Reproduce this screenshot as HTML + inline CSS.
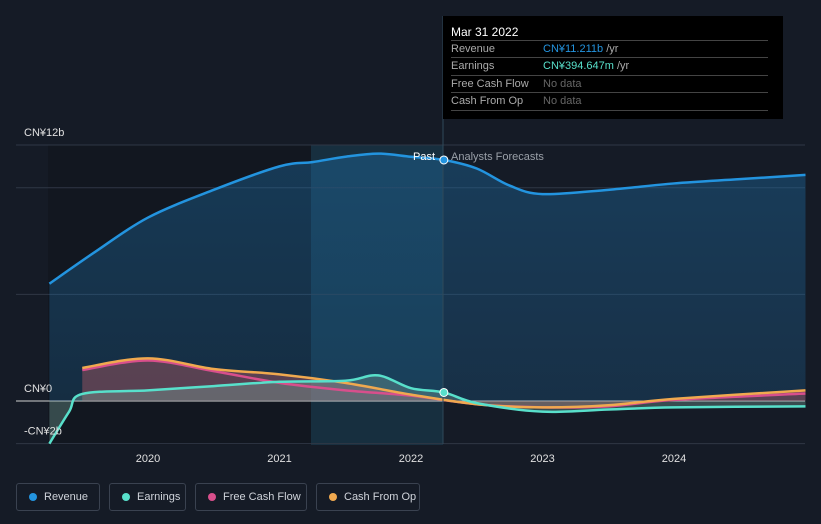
<!DOCTYPE html>
<html><head><meta charset="utf-8"><style>
body{margin:0;background:#151b26;font-family:"Liberation Sans",sans-serif;}
#wrap{position:relative;width:821px;height:524px;overflow:hidden;background:#151b26}
svg text{font-family:"Liberation Sans",sans-serif}
.leg{position:absolute;top:483px;height:28px;border:1px solid #3a4250;border-radius:3px;color:#cfd3da;font-size:11px;line-height:26px;box-sizing:border-box;padding-left:27px;white-space:nowrap}
.leg i{position:absolute;left:12px;top:9px;width:8px;height:8px;border-radius:50%}
#tip{position:absolute;left:443px;top:16px;width:340px;height:103px;background:#000;color:#fff;font-size:11px}
#tip .r{position:absolute;left:8px;width:317px;border-top:1px solid #444;height:17px;line-height:17px;color:#aaa}
#tip .r span{position:absolute;left:92px}
</style></head><body>
<div id="wrap">
<svg id="chart" width="821" height="524">
<defs>
<linearGradient id="revg" x1="0" y1="0" x2="0" y2="1"><stop offset="0" stop-color="#1e6fa8" stop-opacity="0.4"/><stop offset="1" stop-color="#1e6fa8" stop-opacity="0.25"/></linearGradient>
</defs>
<rect x="48" y="145" width="263" height="300" fill="#121720"/>
<rect x="311" y="145" width="132" height="300" fill="#1a4a60" opacity="0.45"/>
<g id="grid"></g>
<g id="areas"></g>
<g id="lines"></g>
<g id="axis"></g>
</svg>
<div id="tip">
<div style="position:absolute;left:8px;top:9px;font-size:12px">Mar 31 2022</div>
<div class="r" style="top:24px">Revenue<span><b style="font-weight:normal;color:#2394df">CN¥11.211b</b> <span style="position:static;color:#aaa">/yr</span></span></div>
<div class="r" style="top:41px">Earnings<span><b style="font-weight:normal;color:#58e0cb">CN¥394.647m</b> <span style="position:static;color:#aaa">/yr</span></span></div>
<div class="r" style="top:59px">Free Cash Flow<span style="color:#666">No data</span></div>
<div class="r" style="top:76px;border-bottom:1px solid #444">Cash From Op<span style="color:#666">No data</span></div>
</div>
<div class="leg" style="left:16px;width:84px"><i style="background:#2394df"></i>Revenue</div>
<div class="leg" style="left:109px;width:77px"><i style="background:#58e0cb"></i>Earnings</div>
<div class="leg" style="left:195px;width:112px"><i style="background:#d84f8c"></i>Free Cash Flow</div>
<div class="leg" style="left:316px;width:104px"><i style="background:#f0a94f"></i>Cash From Op</div>
</div>
<script>
const revX=[2019.25,2019.6,2020,2020.5,2021,2021.25,2021.5,2021.75,2022,2022.25,2022.5,2022.75,2023,2023.5,2024,2024.5,2025];
const revV=[5.5,7.0,8.6,9.9,11.0,11.2,11.45,11.6,11.45,11.3,10.9,10.1,9.7,9.9,10.2,10.4,10.6];
const earnX=[2019.25,2019.4,2019.5,2020,2020.5,2021,2021.5,2021.75,2022,2022.25,2022.5,2023,2023.5,2024,2025];
const earnV=[-2.0,-0.5,0.33,0.5,0.7,0.9,0.95,1.2,0.6,0.4,-0.1,-0.5,-0.4,-0.3,-0.25];
const fcfX=[2019.5,2020,2020.5,2021,2021.5,2022,2022.5,2023,2023.5,2024,2025];
const fcfV=[1.45,1.9,1.4,0.85,0.5,0.25,-0.15,-0.3,-0.25,0.05,0.35];
const cfoX=[2019.5,2020,2020.5,2021,2021.5,2022,2022.5,2023,2023.5,2024,2025];
const cfoV=[1.55,2.0,1.5,1.25,0.85,0.3,-0.15,-0.3,-0.2,0.1,0.5];
const yTicks=[12,10,5,0,-2];
const yLabels=["CN¥12b","CN¥0","-CN¥2b"];
const yLabelVals=[12,0,-2];
const xTicks=[2020,2021,2022,2023,2024];
const NS="http://www.w3.org/2000/svg";
const sx=t=>148+(t-2020)*131.5;
const sy=v=>401-v*21.33;
function mk(tag,attrs,parent){const e=document.createElementNS(NS,tag);for(const k in attrs)e.setAttribute(k,attrs[k]);parent.appendChild(e);return e;}
function path(xs,vs){const p=xs.map((x,i)=>[sx(x),sy(vs[i])]);let d="M"+p[0][0]+","+p[0][1];
for(let i=0;i<p.length-1;i++){const p0=p[i-1]||p[i],p1=p[i],p2=p[i+1],p3=p[i+2]||p2;
d+=" C"+(p1[0]+(p2[0]-p0[0])/6)+","+(p1[1]+(p2[1]-p0[1])/6)+" "+(p2[0]-(p3[0]-p1[0])/6)+","+(p2[1]-(p3[1]-p1[1])/6)+" "+p2[0]+","+p2[1];}return d;}
const grid=document.getElementById('grid'),areas=document.getElementById('areas'),lines=document.getElementById('lines'),axis=document.getElementById('axis');
yTicks.forEach(v=>{const l=mk('line',{x1:16,x2:805,y1:sy(v),y2:sy(v),stroke:v===0?'#d0d0d0':'#2f3745','stroke-width':1},grid);

});
yLabelVals.forEach((v,i)=>{const t=mk('text',{x:24,y:sy(v)-9,fill:'#e0e0e0','font-size':11},axis);t.textContent=yLabels[i];

});
xTicks.forEach(x=>{const t=mk('text',{x:sx(x),y:462,fill:'#e0e0e0','font-size':11,'text-anchor':'middle'},axis);t.textContent=x;

});
function area(xs,vs,fill,op,name){const d=path(xs,vs)+" L"+sx(xs[xs.length-1])+","+sy(0)+" L"+sx(xs[0])+","+sy(0)+"Z";
const a=mk('path',{d:d,fill:fill,opacity:op},areas);

}
area(revX,revV,'url(#revg)',1,'revenue-area');
area(cfoX,cfoV,'#c0606a',0.4,'cfo-area');
area(earnX,earnV,'#7aa8a0',0.35,'earnings-area');
function line(xs,vs,c,name){const l=mk('path',{d:path(xs,vs),fill:'none',stroke:c,'stroke-width':2.5},lines);

}
line(fcfX,fcfV,'#d84f8c','fcf-line');
line(cfoX,cfoV,'#f0a94f','cfo-line');
line(earnX,earnV,'#58e0cb','earnings-line');
line(revX,revV,'#2394df','revenue-line');
const vl=mk('line',{x1:443,x2:443,y1:16,y2:444,stroke:'#2f4a5a','stroke-width':1},axis);


const d1=mk('circle',{cx:sx(2022.25),cy:sy(revV[9]),r:4,fill:'#2394df',stroke:'#fff','stroke-width':1},axis);


const d2=mk('circle',{cx:sx(2022.25),cy:sy(earnV[9]),r:4,fill:'#58e0cb',stroke:'#fff','stroke-width':1},axis);


const pt=mk('text',{x:435,y:160,fill:'#fff','font-size':11,'text-anchor':'end'},axis);pt.textContent='Past';


const ft=mk('text',{x:451,y:160,fill:'#9aa0a8','font-size':11},axis);ft.textContent='Analysts Forecasts';


</script>
</body></html>
